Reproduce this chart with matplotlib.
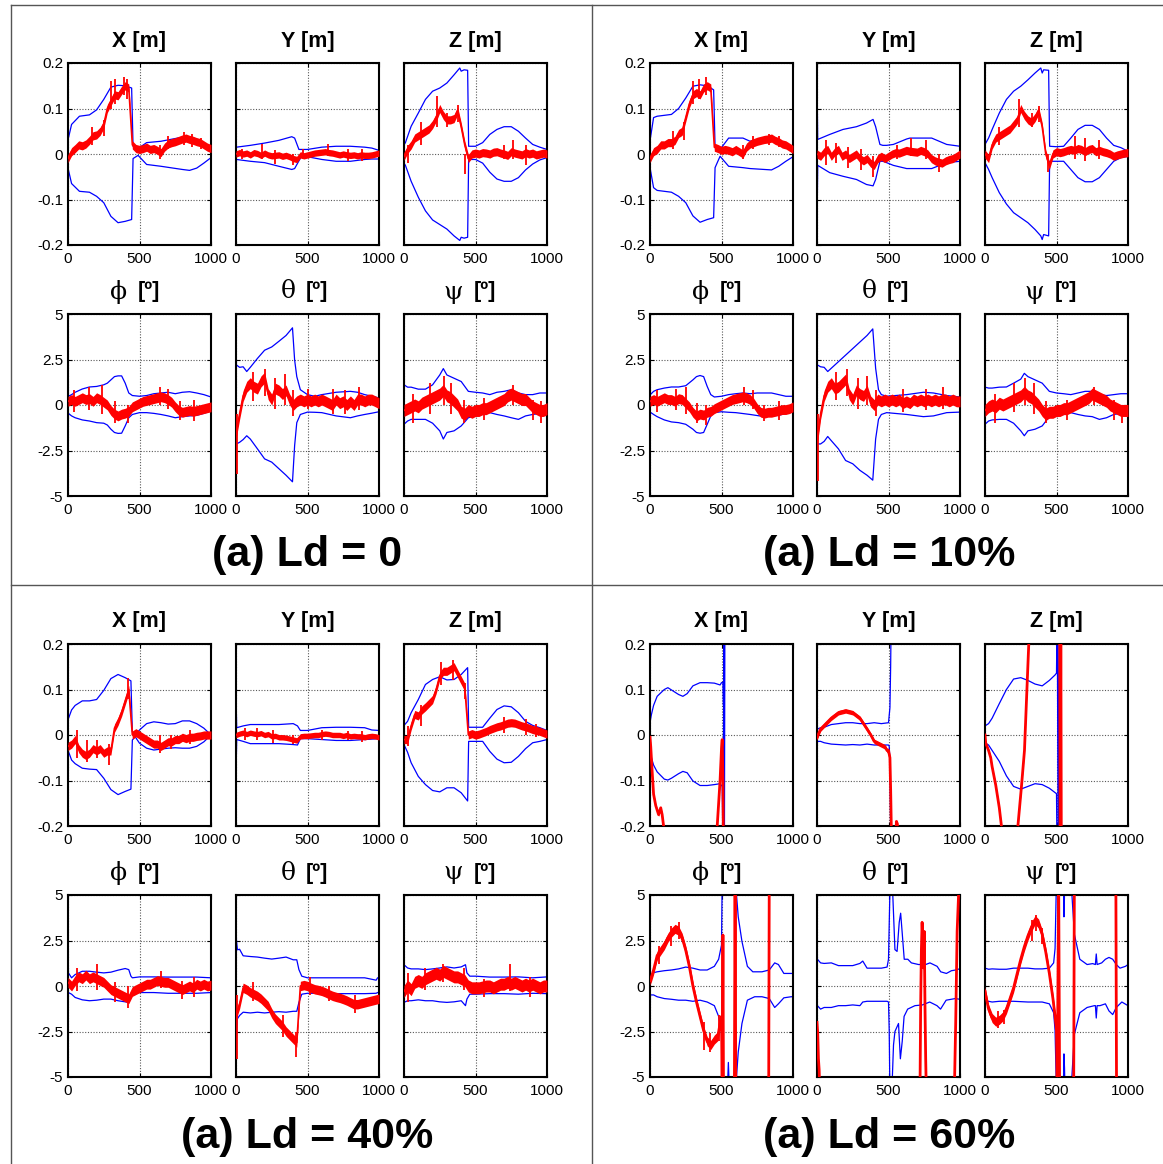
import numpy as np
import matplotlib
matplotlib.use("Agg")
import matplotlib.pyplot as plt
from matplotlib.lines import Line2D

plt.rcParams["font.family"] = ["Liberation Sans", "DejaVu Sans"]

# ---------------------------------------------------------------- data
# common red sampling grid (time steps) for panels Ld = 0, 10 %, 40 %
RT = [0, 25, 50, 75, 100, 125, 150, 175, 200, 225, 250, 275, 300, 325, 350,
      375, 400, 425, 450, 475, 500, 525, 550, 575, 600, 625, 650, 675, 700,
      725, 750, 775, 800, 825, 850, 875, 900, 925, 950, 975, 1000]

# ---- Ld = 0 ; blue rows: (t, upper bound, lower bound)
A_X_blue = [(0, 0.082, -0.082), (3, 0.035, -0.035), (25, 0.065, -0.065), (80, 0.083, -0.082),
            (150, 0.086, -0.084), (200, 0.097, -0.093), (250, 0.12, -0.107), (300, 0.147, -0.137),
            (350, 0.151, -0.151), (400, 0.150, -0.148), (445, 0.145, -0.144), (455, 0.017, -0.010),
            (490, 0.012, -0.003), (550, 0.025, -0.023), (650, 0.028, -0.027), (800, 0.037, -0.034),
            (850, 0.037, -0.036), (900, 0.033, -0.031), (950, 0.022, -0.020), (1000, 0.010, -0.008)]
A_X_red = [-0.010, 0.005, 0.012, 0.020, 0.018, 0.022, 0.030, 0.040, 0.042, 0.050, 0.065, 0.100,
           0.115, 0.130, 0.128, 0.140, 0.150, 0.145, 0.020, 0.012, 0.010, 0.012, 0.015, 0.010,
           0.012, 0.008, 0.003, 0.015, 0.022, 0.025, 0.027, 0.030, 0.033, 0.035, 0.032, 0.030,
           0.027, 0.025, 0.020, 0.015, 0.012]
A_X_spk = [(170, 0.02, 0.06), (255, 0.04, 0.075), (300, 0.10, 0.16), (330, 0.11, 0.165),
           (395, 0.13, 0.17), (410, 0.12, 0.165), (640, -0.012, 0.02), (700, 0.01, 0.04),
           (810, 0.02, 0.048), (870, 0.015, 0.045), (930, 0.01, 0.035)]
A_Y_blue = [(0, 0.083, -0.083), (3, 0.015, -0.012), (100, 0.019, -0.016), (200, 0.024, -0.019),
            (300, 0.030, -0.027), (390, 0.038, -0.034), (410, 0.035, -0.032), (440, 0.010, -0.015),
            (455, 0.010, -0.007), (500, 0.010, -0.006), (600, 0.015, -0.012), (700, 0.017, -0.016),
            (800, 0.017, -0.016), (900, 0.015, -0.012), (950, 0.013, -0.011), (1000, 0.008, -0.011)]
A_Y_red = [0.000, 0.003, 0.000, 0.002, -0.002, 0.003, 0.001, -0.003, 0.002, -0.002, -0.004, -0.003,
           -0.002, -0.005, -0.003, -0.006, -0.010, -0.012, -0.002, -0.004, -0.002, 0.000, 0.002,
           0.003, 0.004, 0.005, 0.003, 0.002, 0.000, -0.002, 0.000, -0.002, -0.003, -0.002, -0.004,
           -0.002, -0.003, -0.003, -0.002, 0.000, 0.002]
A_Y_spk = [(40, -0.012, 0.012), (180, -0.010, 0.022), (270, -0.022, 0.008), (400, -0.025, 0.0),
           (470, -0.012, 0.012), (640, -0.005, 0.022), (780, -0.015, 0.010), (880, -0.016, 0.010)]
A_Z_blue = [(0, 0.020, -0.020), (10, 0.025, -0.025), (50, 0.061, -0.060), (100, 0.090, -0.095),
            (150, 0.120, -0.125), (200, 0.138, -0.145), (250, 0.145, -0.155), (300, 0.156, -0.165),
            (350, 0.174, -0.180), (390, 0.189, -0.190), (400, 0.182, -0.183), (420, 0.185, -0.185),
            (445, 0.184, -0.183), (452, 0.017, -0.012), (500, 0.017, -0.012), (550, 0.025, -0.020),
            (600, 0.043, -0.040), (650, 0.054, -0.055), (700, 0.060, -0.060), (750, 0.060, -0.060),
            (800, 0.050, -0.052), (850, 0.035, -0.035), (900, 0.021, -0.022), (950, 0.015, -0.013),
            (1000, 0.010, -0.008)]
A_Z_red = [-0.005, 0.010, 0.020, 0.035, 0.040, 0.045, 0.050, 0.055, 0.065, 0.080, 0.100, 0.085,
           0.075, 0.075, 0.078, 0.095, 0.060, 0.020, -0.010, 0.000, 0.002, 0.000, 0.003, 0.002,
           0.000, 0.004, 0.005, 0.002, 0.000, -0.003, 0.005, 0.002, 0.000, -0.002, 0.003, 0.000,
           0.002, -0.002, 0.000, 0.002, 0.000]
A_Z_spk = [(30, -0.02, 0.02), (120, 0.02, 0.07), (230, 0.06, 0.127), (300, 0.06, 0.09),
           (375, 0.07, 0.108), (430, -0.045, 0.0), (700, -0.01, 0.02), (760, -0.01, 0.03),
           (850, -0.025, 0.02)]
A_P_blue = [(0, 4.3, -4.3), (3, 0.48, -0.46), (25, 0.57, -0.60), (50, 0.70, -0.70), (100, 0.88, -0.82),
            (150, 0.99, -0.88), (200, 1.02, -0.97), (250, 1.11, -1.00), (275, 1.20, -1.10),
            (300, 1.38, -1.33), (325, 1.56, -1.51), (350, 1.60, -1.56), (375, 1.60, -1.55),
            (400, 1.20, -1.15), (425, 0.66, -0.70), (450, 0.52, -0.52), (500, 0.48, -0.42),
            (550, 0.52, -0.42), (600, 0.62, -0.46), (650, 0.66, -0.52), (700, 0.70, -0.60),
            (750, 0.62, -0.70), (800, 0.70, -0.64), (850, 0.73, -0.60), (900, 0.66, -0.57),
            (950, 0.57, -0.46), (1000, 0.44, -0.33)]
A_P_red = [0.2, 0.3, 0.2, 0.3, 0.4, 0.3, 0.35, 0.2, 0.4, 0.3, 0.15, 0.0, -0.3, -0.5, -0.6, -0.5,
           -0.45, -0.35, -0.1, 0.0, 0.1, 0.2, 0.25, 0.3, 0.35, 0.4, 0.45, 0.4, 0.3, 0.15, -0.1, -0.3,
           -0.4, -0.35, -0.3, -0.35, -0.3, -0.25, -0.2, -0.15, -0.1]
A_P_spk = [(40, -0.4, 0.8), (150, -0.3, 1.0), (240, -0.5, 1.1), (330, -1.0, 0.2), (420, -1.0, 0.0),
           (640, 0.0, 1.0), (700, -0.2, 0.9), (780, -0.8, 0.2), (880, -0.9, 0.3)]
A_T_blue = [(0, 4.1, -4.05), (3, 2.2, -2.14), (25, 2.07, -2.05), (50, 2.1, -1.9), (75, 1.84, -1.69),
            (100, 2.07, -1.87), (150, 2.56, -2.41), (200, 3.01, -2.96), (250, 3.19, -3.14),
            (300, 3.5, -3.5), (350, 3.82, -3.86), (395, 4.24, -4.22), (410, 2.47, -2.23),
            (425, 1.56, -0.97), (450, 0.84, -0.52), (500, 0.57, -0.39), (550, 0.48, -0.40),
            (600, 0.57, -0.42), (700, 0.70, -0.60), (800, 0.75, -0.70), (850, 0.70, -0.60),
            (900, 0.57, -0.52), (950, 0.48, -0.45), (1000, 0.39, -0.37)]
A_T_red = [-1.6, -0.5, 0.5, 1.0, 1.2, 1.0, 0.9, 1.3, 1.5, 0.6, 0.3, 0.9, 0.8, 0.6, 0.8, 0.3, 0.0,
           0.2, 0.3, 0.2, 0.3, 0.2, 0.3, 0.2, 0.3, 0.2, 0.1, 0.0, 0.3, 0.1, 0.2, 0.0, 0.2, 0.0, 0.3,
           0.3, 0.2, 0.3, 0.3, 0.2, 0.1]
A_T_spk = [(10, -3.8, -0.5), (120, 0.2, 1.8), (200, 0.5, 2.0), (270, -0.2, 1.5), (340, 0.0, 1.7),
           (400, -0.6, 0.8), (500, -0.2, 0.9), (680, -0.5, 0.9), (760, -0.5, 0.8), (860, -0.3, 1.0)]
A_S_blue = [(0, 1.11, -1.06), (25, 0.98, -0.88), (50, 0.98, -0.79), (100, 0.87, -0.79),
            (150, 0.87, -0.79), (200, 1.11, -1.00), (250, 1.65, -1.42), (275, 2.00, -1.87),
            (300, 1.65, -1.51), (350, 1.47, -1.42), (400, 1.29, -1.15), (450, 0.75, -0.70),
            (500, 0.70, -0.60), (550, 0.66, -0.52), (600, 0.57, -0.42), (650, 0.70, -0.52),
            (700, 0.75, -0.60), (750, 0.84, -0.70), (800, 0.66, -0.79), (850, 0.57, -0.60),
            (900, 0.57, -0.52), (950, 0.66, -0.46), (1000, 0.66, -0.60)]
A_S_red = [-0.3, -0.2, -0.1, 0.0, -0.1, 0.1, 0.2, 0.3, 0.4, 0.5, 0.6, 0.8, 0.5, 0.4, 0.2, 0.0, -0.4,
           -0.5, -0.3, -0.4, -0.3, -0.3, -0.2, -0.2, -0.1, 0.0, 0.1, 0.2, 0.3, 0.5, 0.6, 0.5, 0.4,
           0.3, 0.3, 0.1, -0.1, -0.2, -0.3, -0.3, -0.2]
A_S_spk = [(60, -1.0, 0.6), (180, -0.5, 1.2), (280, 0.0, 1.6), (330, -0.5, 1.2), (420, -1.0, 0.3),
           (560, -0.8, 0.4), (760, 0.0, 1.1), (900, -0.8, 0.3), (960, -1.0, 0.2)]

# ---- Ld = 10 %
B_X_blue = [(0, 0.083, -0.083), (3, 0.035, -0.035), (25, 0.080, -0.074), (50, 0.083, -0.080),
            (100, 0.085, -0.082), (150, 0.087, -0.084), (200, 0.100, -0.093), (250, 0.123, -0.107),
            (300, 0.149, -0.136), (350, 0.152, -0.150), (400, 0.150, -0.144), (445, 0.141, -0.140),
            (455, 0.017, -0.030), (490, 0.010, -0.005), (550, 0.035, -0.027), (650, 0.035, -0.030),
            (700, 0.028, -0.032), (800, 0.035, -0.034), (850, 0.039, -0.035), (900, 0.032, -0.027),
            (950, 0.021, -0.016), (1000, 0.010, -0.006)]
B_X_red = [-0.010, 0.005, 0.010, 0.020, 0.020, 0.025, 0.025, 0.030, 0.045, 0.050, 0.080, 0.110,
           0.130, 0.135, 0.130, 0.145, 0.150, 0.145, 0.015, 0.012, 0.008, 0.010, 0.008, 0.005,
           0.010, 0.005, 0.000, 0.015, 0.022, 0.025, 0.028, 0.030, 0.032, 0.033, 0.035, 0.030,
           0.027, 0.022, 0.020, 0.015, 0.010]
B_X_spk = [(160, 0.01, 0.05), (240, 0.03, 0.07), (300, 0.11, 0.16), (340, 0.12, 0.165),
           (390, 0.13, 0.17), (650, -0.012, 0.02), (720, 0.01, 0.04), (830, 0.02, 0.045),
           (900, 0.015, 0.04)]
B_Y_blue = [(0, 0.167, -0.166), (5, 0.032, -0.025), (89, 0.043, -0.041), (182, 0.054, -0.049),
            (276, 0.060, -0.056), (346, 0.068, -0.067), (392, 0.076, -0.070), (410, 0.060, -0.056),
            (440, 0.021, -0.016), (460, 0.019, -0.016), (487, 0.019, -0.019), (534, 0.021, -0.025),
            (627, 0.033, -0.032), (650, 0.035, -0.032), (802, 0.035, -0.032), (907, 0.021, -0.019),
            (1000, 0.017, -0.016)]
B_Y_red = [0.000, -0.005, 0.005, 0.010, -0.005, 0.005, 0.010, -0.005, 0.000, -0.010, -0.005, 0.000,
           -0.010, -0.015, -0.010, -0.020, -0.025, -0.010, -0.005, -0.010, -0.005, 0.000, 0.003,
           0.002, 0.005, 0.008, 0.006, 0.005, 0.004, 0.008, 0.005, 0.000, -0.010, -0.015, -0.018,
           -0.020, -0.015, -0.012, -0.010, -0.005, 0.000]
B_Y_spk = [(60, -0.025, 0.030), (130, -0.020, 0.025), (220, -0.030, 0.015), (310, -0.035, 0.010),
           (390, -0.050, -0.005), (560, -0.010, 0.020), (660, -0.005, 0.035), (760, -0.010, 0.030),
           (850, -0.040, 0.000)]
B_Z_blue = [(0, 0.021, -0.019), (25, 0.035, -0.034), (50, 0.054, -0.052), (100, 0.090, -0.085),
            (150, 0.120, -0.110), (200, 0.138, -0.129), (250, 0.149, -0.140), (300, 0.163, -0.151),
            (350, 0.178, -0.166), (390, 0.189, -0.180), (400, 0.178, -0.188), (410, 0.185, -0.177),
            (445, 0.184, -0.180), (452, 0.017, -0.016), (500, 0.016, -0.016), (550, 0.017, -0.016),
            (600, 0.035, -0.034), (650, 0.054, -0.052), (700, 0.063, -0.061), (750, 0.063, -0.061),
            (800, 0.054, -0.052), (850, 0.035, -0.034), (900, 0.019, -0.016), (950, 0.014, -0.008),
            (1000, 0.006, -0.005)]
B_Z_red = [0.000, -0.010, 0.020, 0.035, 0.040, 0.045, 0.050, 0.055, 0.065, 0.075, 0.100, 0.085,
           0.075, 0.070, 0.080, 0.095, 0.060, 0.000, -0.025, 0.000, 0.005, 0.003, 0.005, 0.008,
           0.010, 0.008, 0.012, 0.010, 0.005, 0.010, 0.012, 0.005, 0.008, 0.005, 0.003, 0.000,
           -0.005, -0.002, 0.000, 0.002, 0.003]
B_Z_spk = [(100, 0.02, 0.06), (240, 0.06, 0.12), (330, 0.06, 0.09), (380, 0.07, 0.105),
           (440, -0.04, 0.0), (630, -0.01, 0.04), (700, -0.015, 0.035), (800, -0.01, 0.03)]
B_P_blue = [(0, 4.3, -4.3), (3, 0.57, -0.40), (25, 0.75, -0.52), (50, 0.84, -0.64), (100, 0.93, -0.82),
            (150, 0.99, -0.93), (200, 0.99, -0.97), (250, 1.06, -1.06), (300, 1.38, -1.33),
            (325, 1.56, -1.51), (350, 1.62, -1.55), (375, 1.56, -1.51), (400, 1.02, -1.06),
            (425, 0.57, -0.60), (450, 0.44, -0.42), (500, 0.48, -0.37), (550, 0.57, -0.40),
            (600, 0.62, -0.42), (650, 0.66, -0.47), (700, 0.62, -0.52), (750, 0.66, -0.58),
            (800, 0.66, -0.64), (850, 0.66, -0.60), (900, 0.57, -0.57), (950, 0.48, -0.46),
            (1000, 0.48, -0.39)]
B_P_red = [0.2, 0.3, 0.2, 0.3, 0.4, 0.3, 0.3, 0.2, 0.35, 0.3, 0.1, -0.1, -0.4, -0.6, -0.5, -0.55,
           -0.4, -0.35, -0.2, -0.1, 0.0, 0.1, 0.2, 0.3, 0.35, 0.4, 0.45, 0.4, 0.3, 0.1, -0.2, -0.4,
           -0.45, -0.4, -0.4, -0.35, -0.3, -0.25, -0.25, -0.2, -0.1]
B_P_spk = [(50, -0.4, 0.8), (180, -0.3, 0.9), (250, -0.5, 1.0), (330, -1.0, 0.1), (390, -1.1, 0.0),
           (660, 0.0, 1.0), (720, -0.2, 0.8), (800, -0.9, 0.0), (900, -0.8, 0.2)]
B_T_blue = [(0, 4.1, -4.1), (3, 2.2, -2.14), (25, 2.1, -2.14), (50, 2.07, -2.0), (75, 1.84, -1.73),
            (100, 2.02, -1.96), (150, 2.38, -2.41), (200, 2.74, -3.05), (250, 3.1, -3.23),
            (300, 3.46, -3.59), (350, 3.82, -3.86), (390, 4.18, -4.13), (410, 2.02, -1.87),
            (430, 0.84, -0.79), (450, 0.57, -0.52), (487, 0.48, -0.42), (627, 0.57, -0.52),
            (744, 0.70, -0.64), (814, 0.66, -0.60), (907, 0.52, -0.42), (1000, 0.44, -0.39)]
B_T_red = [-2.0, -0.5, 0.5, 1.0, 1.2, 0.9, 1.0, 1.2, 1.4, 0.6, 0.3, 0.8, 0.6, 0.5, 0.8, 0.2, 0.0,
           0.3, 0.2, 0.3, 0.2, 0.3, 0.2, 0.3, 0.1, 0.2, 0.1, 0.3, 0.2, 0.3, 0.2, 0.3, 0.2, 0.3, 0.2,
           0.3, 0.3, 0.2, 0.3, 0.2, 0.2]
B_T_spk = [(10, -4.2, -0.5), (130, 0.3, 1.8), (210, 0.5, 2.0), (290, -0.2, 1.5), (350, 0.0, 1.6),
           (410, -0.6, 0.8), (600, -0.4, 0.9), (760, -0.3, 0.9), (880, -0.2, 1.0)]
B_S_blue = [(0, 0.98, -1.06), (25, 0.93, -0.88), (50, 0.93, -0.82), (100, 0.98, -0.79),
            (150, 0.99, -0.79), (200, 1.20, -1.00), (250, 1.42, -1.42), (275, 1.74, -1.69),
            (300, 1.56, -1.42), (350, 1.38, -1.33), (400, 1.20, -1.15), (450, 0.75, -0.64),
            (500, 0.66, -0.60), (550, 0.62, -0.52), (600, 0.57, -0.42), (650, 0.66, -0.52),
            (700, 0.75, -0.60), (750, 0.75, -0.64), (800, 0.57, -0.79), (850, 0.52, -0.70),
            (900, 0.57, -0.52), (950, 0.62, -0.46), (1000, 0.62, -0.52)]
B_S_red = [-0.3, -0.1, 0.0, -0.1, 0.1, 0.0, 0.1, 0.2, 0.3, 0.4, 0.5, 0.7, 0.5, 0.4, 0.2, 0.0, -0.3,
           -0.5, -0.4, -0.4, -0.3, -0.3, -0.2, -0.2, -0.1, 0.0, 0.1, 0.2, 0.3, 0.4, 0.6, 0.5, 0.4,
           0.3, 0.2, 0.0, -0.1, -0.2, -0.3, -0.3, -0.3]
B_S_spk = [(70, -1.0, 0.6), (200, -0.4, 1.2), (280, 0.0, 1.5), (340, -0.5, 1.2), (430, -1.0, 0.2),
           (570, -0.8, 0.3), (760, 0.0, 1.0), (900, -0.8, 0.3), (960, -1.0, 0.0)]

# ---- Ld = 40 %
C_X_blue = [(0, 0.080, -0.080), (3, 0.036, -0.036), (25, 0.055, -0.055), (50, 0.065, -0.063),
            (100, 0.075, -0.073), (150, 0.075, -0.075), (200, 0.078, -0.076), (250, 0.098, -0.095),
            (300, 0.124, -0.120), (350, 0.133, -0.131), (400, 0.126, -0.124), (440, 0.119, -0.119),
            (450, 0.007, -0.011), (470, 0.000, -0.004), (500, 0.011, -0.018), (550, 0.025, -0.029),
            (600, 0.029, -0.033), (650, 0.027, -0.031), (700, 0.024, -0.029), (750, 0.025, -0.028),
            (800, 0.031, -0.029), (850, 0.031, -0.029), (900, 0.025, -0.025), (950, 0.015, -0.015),
            (1000, 0.000, 0.000)]
C_X_red = [-0.025, -0.020, -0.010, -0.030, -0.040, -0.045, -0.040, -0.030, -0.035, -0.030, -0.040,
           -0.035, -0.035, 0.015, 0.030, 0.050, 0.075, 0.100, 0.000, 0.005, 0.000, -0.005, -0.010,
           -0.015, -0.020, -0.020, -0.025, -0.020, -0.015, -0.015, -0.010, -0.010, -0.005, -0.008,
           -0.005, -0.005, -0.003, -0.002, 0.000, 0.000, 0.000]
C_X_spk = [(60, -0.05, 0.01), (130, -0.06, -0.01), (200, -0.05, -0.01), (290, -0.065, -0.02),
           (420, 0.08, 0.125), (640, -0.04, 0.0), (720, -0.03, 0.0), (850, -0.02, 0.01)]
C_Y_blue = [(0, 0.085, -0.085), (5, 0.016, -0.010), (50, 0.020, -0.014), (100, 0.023, -0.019),
            (200, 0.023, -0.019), (300, 0.023, -0.019), (400, 0.025, -0.021), (430, 0.020, -0.022),
            (450, 0.010, -0.008), (500, 0.010, -0.008), (600, 0.016, -0.010), (700, 0.017, -0.012),
            (800, 0.017, -0.012), (900, 0.016, -0.010), (950, 0.011, -0.009), (1000, 0.010, -0.008)]
C_Y_red = [0.000, 0.003, 0.005, 0.002, 0.005, 0.003, 0.002, 0.004, 0.000, 0.002, -0.003, -0.002,
           -0.005, -0.005, -0.006, -0.008, -0.010, -0.012, -0.003, -0.002, -0.002, -0.001, 0.000,
           0.000, 0.002, 0.003, 0.002, 0.000, 0.000, 0.000, -0.002, 0.000, -0.003, -0.002, -0.003,
           -0.003, -0.005, -0.003, -0.002, -0.003, -0.005]
C_Y_spk = [(60, -0.010, 0.015), (150, -0.010, 0.015), (260, -0.018, 0.010), (400, -0.020, 0.0),
           (600, -0.010, 0.012), (780, -0.012, 0.008), (880, -0.015, 0.008)]
C_Z_blue = [(0, 0.021, -0.021), (25, 0.030, -0.038), (50, 0.049, -0.061), (100, 0.078, -0.091),
            (150, 0.111, -0.109), (200, 0.122, -0.122), (250, 0.128, -0.125), (300, 0.121, -0.116),
            (350, 0.122, -0.116), (400, 0.133, -0.127), (445, 0.148, -0.145), (452, 0.017, -0.014),
            (500, 0.017, -0.014), (550, 0.017, -0.014), (600, 0.037, -0.036), (650, 0.056, -0.053),
            (700, 0.064, -0.061), (750, 0.062, -0.060), (800, 0.049, -0.047), (850, 0.030, -0.030),
            (900, 0.021, -0.017), (950, 0.016, -0.014), (1000, 0.010, -0.010)]
C_Z_red = [-0.010, -0.010, 0.020, 0.045, 0.042, 0.055, 0.062, 0.070, 0.078, 0.100, 0.130, 0.140,
           0.140, 0.145, 0.150, 0.135, 0.120, 0.105, 0.000, 0.003, 0.000, 0.002, 0.005, 0.008,
           0.012, 0.015, 0.018, 0.020, 0.023, 0.026, 0.027, 0.026, 0.023, 0.020, 0.018, 0.015,
           0.012, 0.010, 0.008, 0.005, 0.002]
C_Z_spk = [(30, -0.025, 0.02), (120, 0.02, 0.065), (260, 0.11, 0.16), (340, 0.12, 0.165),
           (430, 0.08, 0.115), (700, 0.005, 0.04), (850, 0.0, 0.035), (920, -0.005, 0.025)]
C_P_blue = [(0, 4.3, -4.3), (3, 0.72, -0.36), (25, 0.45, -0.45), (50, 0.63, -0.63), (100, 0.81, -0.76),
            (150, 0.81, -0.81), (200, 0.76, -0.78), (250, 0.72, -0.72), (300, 0.76, -0.72),
            (350, 0.87, -0.81), (400, 0.96, -0.87), (425, 0.90, -0.90), (440, 0.54, -0.54),
            (450, 0.45, -0.36), (500, 0.50, -0.36), (600, 0.50, -0.36), (700, 0.49, -0.40),
            (800, 0.49, -0.40), (900, 0.49, -0.40), (1000, 0.45, -0.36)]
C_P_red = [0.2, 0.0, 0.3, 0.5, 0.4, 0.6, 0.4, 0.5, 0.4, 0.3, 0.2, 0.0, -0.2, -0.3, -0.4, -0.5, -0.6,
           -0.7, -0.3, -0.2, -0.1, 0.0, 0.1, 0.1, 0.2, 0.3, 0.25, 0.2, 0.2, 0.1, 0.0, -0.1, -0.2,
           -0.1, 0.0, -0.1, 0.1, 0.0, 0.1, 0.0, 0.05]
C_P_spk = [(60, -0.3, 1.0), (200, -0.2, 1.2), (330, -0.9, 0.2), (420, -1.2, 0.0), (650, -0.1, 0.8),
           (800, -0.7, 0.3), (880, -0.6, 0.5)]
C_T_blue = [(0, 4.1, -4.1), (3, 2.53, -2.7), (10, 1.99, -1.8), (25, 2.02, -1.62), (50, 1.66, -1.44),
            (100, 1.62, -1.48), (150, 1.59, -1.44), (200, 1.53, -1.48), (250, 1.48, -1.44),
            (300, 1.53, -1.41), (350, 1.59, -1.44), (400, 1.44, -1.39), (425, 1.44, -1.39),
            (440, 0.90, -0.90), (460, 0.54, -0.45), (500, 0.45, -0.40), (600, 0.45, -0.40),
            (700, 0.45, -0.42), (800, 0.45, -0.42), (900, 0.45, -0.42), (980, 0.32, -0.40),
            (990, 0.45, -0.36), (1000, 0.45, -0.36)]
C_T_red = [-1.6, -1.0, -0.1, -0.2, -0.35, -0.45, -0.55, -0.7, -0.9, -1.1, -1.5, -1.8, -2.0, -2.2,
           -2.5, -2.7, -2.9, -3.1, 0.0, 0.05, 0.0, -0.1, -0.18, -0.22, -0.27, -0.35, -0.45, -0.54,
           -0.6, -0.65, -0.72, -0.8, -0.9, -1.0, -1.0, -0.95, -0.9, -0.85, -0.8, -0.75, -0.7]
C_T_spk = [(10, -4.0, -0.5), (120, -0.8, 0.2), (330, -2.8, -1.6), (420, -3.9, -2.5), (520, -0.5, 0.5),
           (650, -0.8, 0.0), (830, -1.5, -0.5)]
C_S_blue = [(0, 1.17, -0.90), (25, 0.99, -0.81), (50, 0.94, -0.81), (100, 0.94, -0.76),
            (150, 0.90, -0.81), (200, 0.94, -0.81), (250, 0.99, -0.87), (300, 1.05, -0.90),
            (350, 0.99, -0.87), (400, 1.05, -0.81), (430, 1.17, -1.08), (440, 0.72, -0.72),
            (460, 0.54, -0.45), (500, 0.54, -0.45), (600, 0.49, -0.42), (700, 0.49, -0.42),
            (800, 0.50, -0.45), (900, 0.45, -0.40), (1000, 0.50, -0.42)]
C_S_red = [-0.3, 0.0, -0.2, 0.2, 0.3, 0.2, 0.4, 0.5, 0.6, 0.7, 0.6, 0.8, 0.7, 0.6, 0.5, 0.5, 0.4, 0.3,
           0.0, -0.1, -0.1, -0.1, -0.05, 0.0, 0.0, -0.1, 0.0, 0.1, 0.1, 0.2, 0.1, 0.2, 0.1, 0.0, 0.1,
           0.0, 0.1, 0.0, -0.1, 0.0, 0.0]
C_S_spk = [(30, -0.9, 0.7), (150, -0.2, 1.0), (270, 0.2, 1.2), (420, -0.2, 1.0), (560, -0.6, 0.4),
           (740, -0.3, 1.2), (880, -0.6, 0.5)]

# ---- Ld = 60 % (diverging run: own sample times per curve)
D_X_up_t = [0, 3, 10, 25, 50, 100, 125, 150, 200, 230, 260, 300, 350, 400, 450, 490, 500, 510, 514, 518]
D_X_up = [0.085, 0.033, 0.045, 0.065, 0.085, 0.100, 0.104, 0.099, 0.089, 0.085, 0.091, 0.108,
          0.115, 0.115, 0.114, 0.110, 0.115, 0.116, 0.065, 0.300]
D_X_lo_t = [0, 3, 10, 25, 50, 100, 125, 150, 200, 230, 260, 300, 350, 400, 450, 490, 505, 512, 516, 520, 524]
D_X_lo = [-0.080, -0.034, -0.050, -0.066, -0.081, -0.097, -0.099, -0.095, -0.085, -0.080, -0.083,
          -0.101, -0.111, -0.111, -0.109, -0.107, -0.113, -0.300, 0.300, -0.300, 0.300]
D_X_red_t = [0, 5, 15, 25, 40, 60, 75, 85, 95, 100, 460, 470, 480, 490, 500, 505, 510, 515]
D_X_red = [-0.005, -0.025, -0.080, -0.130, -0.155, -0.175, -0.160, -0.175, -0.200, -0.300, -0.300,
           -0.200, -0.150, -0.100, -0.030, -0.010, -0.100, -0.300]

D_Y_up_t = [0, 3, 25, 50, 100, 150, 200, 250, 300, 350, 400, 450, 500, 510, 515, 520]
D_Y_up = [0.085, 0.013, 0.016, 0.017, 0.023, 0.025, 0.027, 0.027, 0.025, 0.025, 0.027, 0.025,
          0.027, 0.060, 0.150, 0.300]
D_Y_lo_t = [0, 3, 25, 50, 100, 150, 200, 250, 300, 350, 400, 450, 500, 505, 510, 518]
D_Y_lo = [-0.085, -0.014, -0.014, -0.017, -0.020, -0.021, -0.022, -0.021, -0.022, -0.020, -0.022,
          -0.022, -0.022, -0.025, -0.058, -0.300]
D_Y_red_t = [0, 10, 25, 50, 100, 150, 200, 250, 300, 350, 380, 400, 425, 450, 475, 490, 500, 510,
             515, 525, 550, 555, 562, 568]
D_Y_red = [-0.006, 0.002, 0.013, 0.021, 0.037, 0.049, 0.053, 0.049, 0.037, 0.013, -0.002, -0.014,
           -0.018, -0.022, -0.026, -0.034, -0.034, -0.050, -0.120, -0.300, -0.300, -0.190, -0.195,
           -0.300]

D_Z_up_t = [0, 5, 25, 50, 100, 150, 200, 250, 300, 350, 400, 450, 490, 500, 505, 512, 518]
D_Z_up = [0.021, 0.021, 0.025, 0.037, 0.069, 0.100, 0.123, 0.126, 0.120, 0.112, 0.108, 0.120,
          0.132, 0.136, 0.300, -0.300, 0.300]
D_Z_lo_t = [0, 5, 25, 50, 100, 150, 200, 250, 300, 350, 400, 450, 500, 505]
D_Z_lo = [-0.001, -0.018, -0.022, -0.034, -0.058, -0.090, -0.113, -0.119, -0.113, -0.107, -0.109,
          -0.117, -0.129, -0.300]
D_Z_red_t = [0, 5, 15, 25, 40, 50, 75, 100, 115, 120, 225, 230, 255, 276, 288, 306, 310, 522, 526,
             530, 534]
D_Z_red = [0.000, -0.018, -0.026, -0.034, -0.050, -0.070, -0.110, -0.160, -0.200, -0.300, -0.300,
           -0.200, -0.113, -0.034, 0.060, 0.200, 0.300, 0.300, -0.300, 0.300, -0.300]

D_P_up_t = [0, 3, 10, 25, 50, 100, 150, 200, 250, 300, 350, 400, 450, 480, 500, 505, 600, 605, 617,
            643, 681, 719, 783, 834, 872, 898, 936, 987, 1000]
D_P_up = [4.4, 0.59, 0.59, 0.73, 0.78, 0.84, 0.88, 0.94, 1.04, 0.98, 0.88, 0.88, 1.08, 1.47, 2.25,
          6.0, 6.0, 5.0, 3.8, 2.45, 1.08, 0.78, 0.78, 0.88, 1.27, 1.18, 0.69, 0.69, 0.69]
D_P_lo_t = [0, 3, 25, 50, 100, 150, 200, 250, 300, 350, 400, 450, 480, 500, 505, 540, 548, 556, 600,
            605, 617, 643, 681, 732, 783, 834, 872, 898, 936, 987, 1000]
D_P_lo = [-4.3, -0.49, -0.49, -0.59, -0.69, -0.73, -0.78, -0.78, -0.84, -0.78, -0.88, -1.08, -1.67,
          -2.45, -6.0, -6.0, -4.2, -6.0, -6.0, -5.0, -3.63, -2.06, -0.78, -0.59, -0.59, -0.69, -1.18,
          -0.98, -0.65, -0.59, -0.59]
D_P_red_t = [0, 10, 25, 50, 75, 100, 125, 150, 175, 200, 225, 250, 275, 300, 325, 350, 375, 400, 425,
             450, 475, 490, 500, 505, 510, 514, 518, 590, 595, 600, 830, 834, 838]
D_P_red = [0.3, 0.49, 0.88, 1.67, 1.96, 2.25, 2.65, 2.94, 3.14, 3.04, 2.65, 1.96, 1.08, 0.0, -0.88,
           -1.67, -2.45, -3.04, -3.24, -2.94, -2.75, -2.06, -1.67, -6.0, 2.8, -6.0, -6.0, -6.0, 6.0,
           -6.0, -6.0, 6.0, 6.0]
D_P_spk = [(60, 1.2, 2.2), (150, 2.2, 3.3), (200, 2.6, 3.5), (380, -3.5, -2.0), (420, -3.6, -2.6),
           (480, -3.0, -1.6)]

D_T_up_t = [0, 3, 25, 50, 100, 150, 200, 250, 300, 320, 350, 400, 450, 490, 500, 505, 512, 520, 530,
            545, 560, 575, 585, 595, 610, 635, 660, 710, 760, 790, 840, 865, 905, 940, 970, 1000]
D_T_up = [4.2, 1.47, 1.27, 1.24, 1.27, 1.12, 1.12, 1.12, 1.24, 1.37, 0.98, 0.98, 0.98, 1.04, 1.47,
          3.4, 6.0, 6.0, 5.0, 2.0, 1.9, 3.5, 4.0, 3.0, 1.47, 1.47, 1.27, 1.18, 1.18, 1.27, 1.08, 0.78,
          0.69, 0.84, 0.88, 0.95]
D_T_lo_t = [0, 3, 25, 50, 100, 150, 200, 250, 300, 320, 350, 400, 450, 490, 500, 505, 510, 520, 527,
            535, 545, 570, 583, 596, 609, 634, 685, 737, 788, 839, 864, 903, 967, 1000]
D_T_lo = [-1.5, -1.08, -1.27, -1.18, -1.18, -1.08, -1.08, -1.04, -1.08, -0.88, -0.84, -0.84, -0.84,
          -0.84, -0.88, -2.45, -6.0, -6.0, -5.0, -3.24, -2.5, -2.06, -4.0, -3.04, -1.67, -1.27, -1.08,
          -1.04, -0.88, -1.08, -1.27, -0.78, -0.69, -0.73]
D_T_red_t = [0, 5, 10, 15, 20, 720, 725, 730, 735, 740, 745, 750, 755, 760, 765, 960, 970, 980, 990, 995]
D_T_red = [-2.0, -2.6, -4.0, -4.6, -6.0, -6.0, -1.0, 2.0, 3.5, 2.5, 1.0, 3.0, -1.0, -4.0, -6.0, -6.0,
           -2.0, 3.0, 5.0, 6.0]

D_S_up_t = [0, 25, 50, 100, 150, 200, 250, 300, 350, 400, 450, 480, 490, 500, 548, 552, 556, 560,
            600, 625, 663, 714, 753, 772, 778, 784, 816, 842, 867, 893, 918, 944, 982, 1000]
D_S_up = [0.98, 0.92, 0.94, 0.92, 0.92, 0.98, 0.98, 0.98, 0.94, 0.94, 0.98, 1.27, 2.06, 6.0, 6.0,
          3.8, 5.0, 6.0, 6.0, 2.84, 1.47, 1.18, 1.23, 1.18, 1.76, 1.18, 1.27, 1.47, 1.57, 1.47, 1.18,
          0.98, 1.08, 1.18]
D_S_lo_t = [0, 25, 50, 100, 200, 300, 400, 450, 480, 490, 500, 548, 552, 556, 560, 600, 625, 663,
            714, 765, 772, 778, 784, 804, 842, 867, 893, 918, 957, 1000]
D_S_lo = [-0.88, -0.84, -0.88, -0.84, -0.84, -0.88, -0.88, -0.98, -1.47, -2.45, -6.0, -6.0, -3.73,
          -4.5, -6.0, -6.0, -2.65, -1.47, -1.18, -1.08, -1.08, -1.76, -1.08, -1.08, -0.98, -1.37,
          -1.57, -1.18, -0.88, -1.08]
D_S_red_t = [0, 10, 25, 50, 75, 100, 125, 150, 175, 200, 225, 250, 275, 300, 325, 350, 375, 400, 425,
             450, 475, 490, 500, 505, 515, 522, 620, 625, 915, 920]
D_S_red = [-0.29, -0.69, -1.27, -1.76, -1.96, -1.86, -1.67, -1.27, -0.69, -0.10, 0.69, 1.47, 2.16,
           2.75, 3.24, 3.63, 3.43, 2.84, 1.86, 0.69, -0.69, -1.67, -2.45, -6.0, 6.0, -6.0, -6.0, 6.0,
           6.0, -6.0]
D_S_spk = [(90, -2.3, -1.4), (130, -2.1, -1.3), (330, 2.5, 3.6), (360, 3.0, 3.9), (400, 2.3, 3.2)]

# half-width of the noisy red band for each panel / variable
A_noise = [0.009, 0.007, 0.009, 0.27, 0.30, 0.33]
B_noise = [0.009, 0.009, 0.009, 0.27, 0.30, 0.33]
C_noise = [0.009, 0.006, 0.009, 0.27, 0.26, 0.33]
D_noise = [0.004, 0.005, 0.004, 0.25, 0.10, 0.25]

TITLES_POS = ["X [m]", "Y [m]", "Z [m]"]
TITLES_ANG = ["\u03d5", "\u03b8", "\u03c8"]
PANEL_LABELS = ["(a) Ld = 0", "(a) Ld = 10%", "(a) Ld = 40%", "(a) Ld = 60%"]
POS_TICKS = [-0.2, -0.1, 0, 0.1, 0.2]
POS_TICKLABELS = ["-0.2", "-0.1", "0", "0.1", "0.2"]
ANG_TICKS = [-5, -2.5, 0, 2.5, 5]
ANG_TICKLABELS = ["-5", "-2.5", "0", "2.5", "5"]
T_TICKS = [0, 500, 1000]


def from_rows(rows, red, noise, spikes):
    t, up, lo = zip(*rows)
    return dict(rt=RT, red=red, w=noise, ut=t, up=up, lt=t, lo=lo, spk=spikes)


panelA = [from_rows(A_X_blue, A_X_red, A_noise[0], A_X_spk),
          from_rows(A_Y_blue, A_Y_red, A_noise[1], A_Y_spk),
          from_rows(A_Z_blue, A_Z_red, A_noise[2], A_Z_spk),
          from_rows(A_P_blue, A_P_red, A_noise[3], A_P_spk),
          from_rows(A_T_blue, A_T_red, A_noise[4], A_T_spk),
          from_rows(A_S_blue, A_S_red, A_noise[5], A_S_spk)]
panelB = [from_rows(B_X_blue, B_X_red, B_noise[0], B_X_spk),
          from_rows(B_Y_blue, B_Y_red, B_noise[1], B_Y_spk),
          from_rows(B_Z_blue, B_Z_red, B_noise[2], B_Z_spk),
          from_rows(B_P_blue, B_P_red, B_noise[3], B_P_spk),
          from_rows(B_T_blue, B_T_red, B_noise[4], B_T_spk),
          from_rows(B_S_blue, B_S_red, B_noise[5], B_S_spk)]
panelC = [from_rows(C_X_blue, C_X_red, C_noise[0], C_X_spk),
          from_rows(C_Y_blue, C_Y_red, C_noise[1], C_Y_spk),
          from_rows(C_Z_blue, C_Z_red, C_noise[2], C_Z_spk),
          from_rows(C_P_blue, C_P_red, C_noise[3], C_P_spk),
          from_rows(C_T_blue, C_T_red, C_noise[4], C_T_spk),
          from_rows(C_S_blue, C_S_red, C_noise[5], C_S_spk)]
panelD = [dict(rt=D_X_red_t, red=D_X_red, w=D_noise[0], ut=D_X_up_t, up=D_X_up, lt=D_X_lo_t, lo=D_X_lo, spk=[]),
          dict(rt=D_Y_red_t, red=D_Y_red, w=D_noise[1], ut=D_Y_up_t, up=D_Y_up, lt=D_Y_lo_t, lo=D_Y_lo, spk=[]),
          dict(rt=D_Z_red_t, red=D_Z_red, w=D_noise[2], ut=D_Z_up_t, up=D_Z_up, lt=D_Z_lo_t, lo=D_Z_lo, spk=[]),
          dict(rt=D_P_red_t, red=D_P_red, w=D_noise[3], ut=D_P_up_t, up=D_P_up, lt=D_P_lo_t, lo=D_P_lo, spk=D_P_spk),
          dict(rt=D_T_red_t, red=D_T_red, w=D_noise[4], ut=D_T_up_t, up=D_T_up, lt=D_T_lo_t, lo=D_T_lo, spk=[]),
          dict(rt=D_S_red_t, red=D_S_red, w=D_noise[5], ut=D_S_up_t, up=D_S_up, lt=D_S_lo_t, lo=D_S_lo, spk=D_S_spk)]

# ---------------------------------------------------------------- layout (pixels)
W, H = 1163, 1164
fig = plt.figure(figsize=(W / 100, H / 100), dpi=100)

COLS_L = [68, 236, 404]
COLS_R = [650, 817, 985]
AX_W = 143
AX_H = 182
# (data, column lefts, row tops, label x, label y, label, red line width)
PANEL_LAYOUT = [
    (panelA, COLS_L, [63, 314], 307, 555, PANEL_LABELS[0], 1.2),
    (panelB, COLS_R, [63, 314], 889, 555, PANEL_LABELS[1], 1.2),
    (panelC, COLS_L, [644, 895], 307, 1137, PANEL_LABELS[2], 1.2),
    (panelD, COLS_R, [644, 895], 889, 1137, PANEL_LABELS[3], 2.0),
]

BLUE = "#0000ff"
RED = "#ff0000"


def rect(x, y, w, h):
    return [x / W, 1 - (y + h) / H, w / W, h / H]


for panel, cols, rows, lx, ly, label, red_lw in PANEL_LAYOUT:
    for i, d in enumerate(panel):
        r, c = divmod(i, 3)
        ax = fig.add_axes(rect(cols[c], rows[r], AX_W, AX_H))
        ax.set_axisbelow(True)
        ax.plot(d["ut"], d["up"], color=BLUE, lw=0.9, zorder=2)
        ax.plot(d["lt"], d["lo"], color=BLUE, lw=0.9, zorder=2)
        rv = np.asarray(d["red"], dtype=float)
        ax.fill_between(d["rt"], rv - d["w"], rv + d["w"], color=RED, lw=0, zorder=3)
        ax.plot(d["rt"], rv, color=RED, lw=red_lw, zorder=3)
        if d["spk"]:
            st, slo, shi = zip(*d["spk"])
            ax.vlines(st, slo, shi, color=RED, lw=1.3, zorder=3)

        ax.set_xlim(0, 1000)
        ax.set_xticks(T_TICKS)
        ax.set_xticklabels([str(v) for v in T_TICKS])
        if r == 0:
            ax.set_ylim(-0.2, 0.2)
            ax.set_yticks(POS_TICKS)
            ax.set_yticklabels(POS_TICKLABELS)
        else:
            ax.set_ylim(-5, 5)
            ax.set_yticks(ANG_TICKS)
            ax.set_yticklabels(ANG_TICKLABELS)
        if c != 0:
            ax.tick_params(axis="y", labelleft=False)
        ax.tick_params(axis="both", direction="in", length=3, width=0.8,
                       top=True, right=True, labelsize=11, colors="black")
        ax.tick_params(axis="x", pad=5)
        ax.tick_params(axis="y", pad=3.5)
        ax.grid(True, color="0.35", linestyle=(0, (1, 1.5)), linewidth=0.8)
        for s in ax.spines.values():
            s.set_linewidth(1.5)
            s.set_color("black")

        ty = 1 + 22 / AX_H
        if r == 0:
            ax.text(0.5, ty, TITLES_POS[c], transform=ax.transAxes, ha="center", va="center",
                    fontsize=15.5, fontweight="bold")
        else:
            ax.text(0.5 - 12 / AX_W, ty, TITLES_ANG[c], transform=ax.transAxes, ha="right",
                    va="center", fontsize=18, family=["DejaVu Serif", "Liberation Serif"])
            ax.text(0.5 - 2 / AX_W, ty, "[\u00ba]", transform=ax.transAxes, ha="left",
                    va="center", fontsize=15.5, fontweight="bold")

    fig.text(lx / W, 1 - ly / H, label, ha="center", va="center", fontsize=31,
             fontweight="bold")

# frame lines separating the four panels
LINE_KW = dict(transform=fig.transFigure, color="#555555", lw=1.0)
fig.add_artist(Line2D([11 / W, 11 / W], [0, 1 - 5 / H], **LINE_KW))
fig.add_artist(Line2D([11 / W, 1], [1 - 5 / H, 1 - 5 / H], **LINE_KW))
fig.add_artist(Line2D([592 / W, 592 / W], [0, 1 - 5 / H], **LINE_KW))
fig.add_artist(Line2D([11 / W, 1], [1 - 585 / H, 1 - 585 / H], **LINE_KW))

fig.savefig("out.png", dpi=100, facecolor="white")
